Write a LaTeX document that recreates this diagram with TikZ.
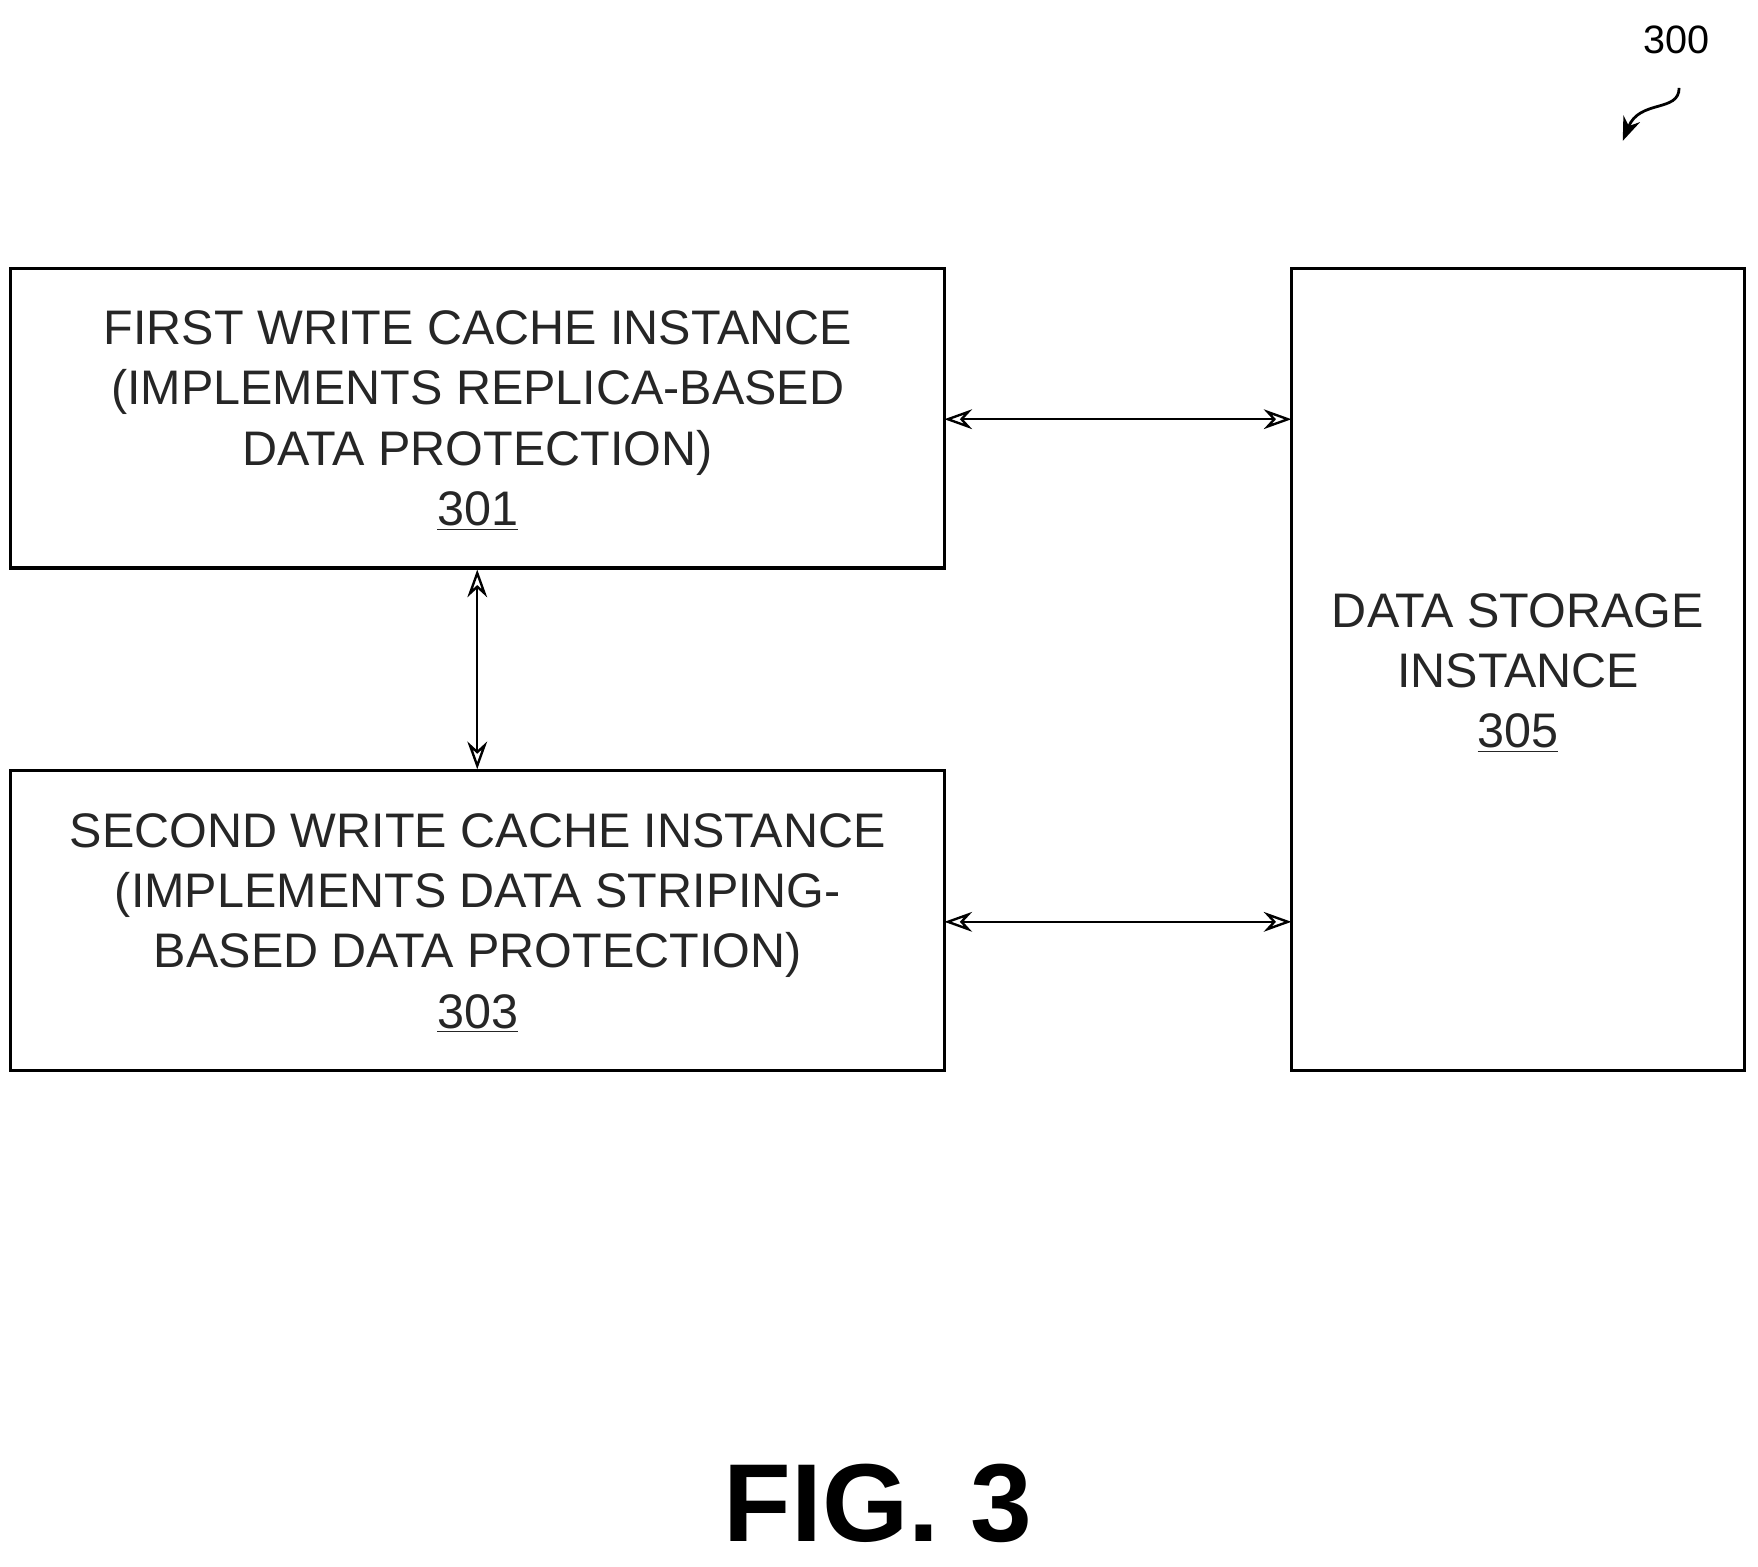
\documentclass[tikz,border=0pt]{standalone}
\usepackage{fontspec}
\setmainfont{Liberation Sans}
\usetikzlibrary{arrows.meta}
\begin{document}
\begin{tikzpicture}[x=0.02cm,y=-0.02cm,
  box/.style={draw,line width=1.6pt},
  txt/.style={font=\fontsize{24.5}{30.5}\selectfont,align=center,text=black!85},
  conn/.style={line width=1.2pt,{Stealth[length=14pt,width=10pt,open]}-{Stealth[length=14pt,width=10pt,open]}}]
\useasboundingbox (0,0) rectangle (1560,1390);
\node[box,minimum width=829*0.02cm,minimum height=266*0.02cm] (a) at (423.5,371) {};
\node[box,minimum width=829*0.02cm,minimum height=266*0.02cm] (b) at (423.5,817) {};
\node[box,minimum width=402*0.02cm,minimum height=712*0.02cm] (c) at (1347,594) {};
\node[txt] (at) at (424,373) {FIRST WRITE CACHE INSTANCE\\(IMPLEMENTS REPLICA-BASED\\DATA PROTECTION)\\\underline{301}};
\node[txt] (bt) at (424,819) {SECOND WRITE CACHE INSTANCE\\(IMPLEMENTS DATA STRIPING-\\BASED DATA PROTECTION)\\\underline{303}};
\node[txt] (ct) at (1347,597) {DATA STORAGE\\INSTANCE\\\underline{305}};
\coordinate (a1) at (838,372); \coordinate (c1) at (1146,372);
\coordinate (b1) at (838,818); \coordinate (c2) at (1146,818);
\draw[conn] (a1) -- (c1);
\draw[conn] (b1) -- (c2);
\draw[conn] (a.south) -- (b.north);
\node[font=\fontsize{20}{24}\selectfont] (n300) at (1488,35) {300};
\coordinate (s1) at (1490,78); \coordinate (s2) at (1440,125);
\draw[line width=1.4pt,-{Stealth[length=12pt,width=9pt]}] (s1) .. controls (1490,100) and (1455,88) .. (s2);
\node[font=\bfseries\fontsize{56}{66}\selectfont] (fig) at (779,1334) {FIG. 3};
\end{tikzpicture}
\end{document}
